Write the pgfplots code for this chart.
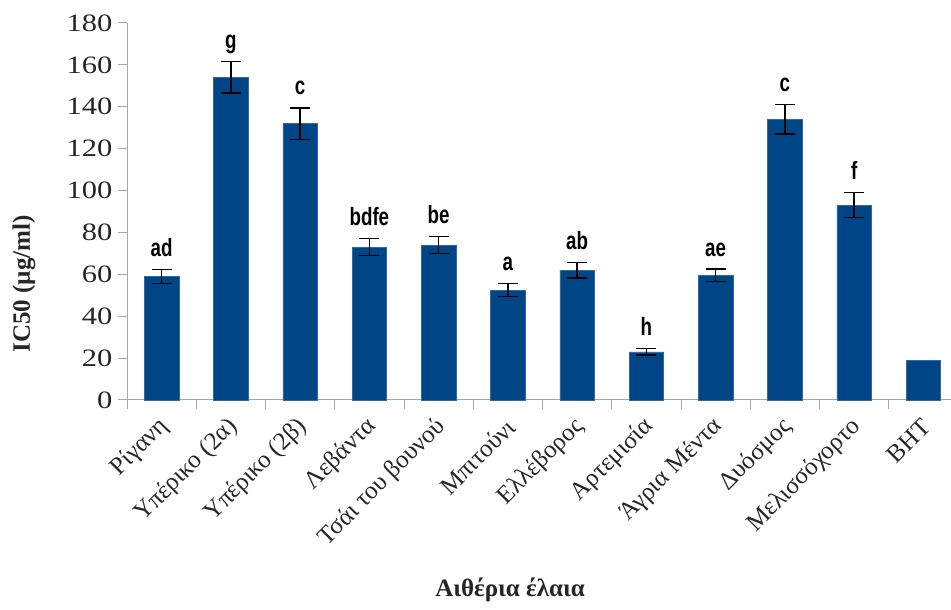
\documentclass[border=0pt]{standalone}
\usepackage{fontspec}
\setmainfont{Liberation Serif}
\newfontfamily\letterfont{Liberation Sans}[FakeStretch=0.75]
\newfontfamily\tickfont{Liberation Serif}[FakeStretch=1.22]
\usepackage{pgfplots}
\usepackage{pgfplotstable}
\pgfplotsset{compat=1.18}

\definecolor{barblue}{RGB}{0,69,134}
\definecolor{axisgray}{RGB}{165,165,165}

% IC50 of each oil (bars)
\pgfplotstableread{
x y
0 59
1 154
2 132
3 73
4 74
5 52.5
6 62
7 23
8 59.5
9 134
10 93
11 19
}\bars

% mean, standard deviation and significance group of each essential oil
\pgfplotstableread{
x y err lab
0 59 3.3 ad
1 154 7.5 g
2 132 7.5 c
3 73 4 bdfe
4 74 4 be
5 52.5 3 a
6 62 3.7 ab
7 23 1.5 h
8 59.5 3 ae
9 134 7 c
10 93 6 f
}\stats

\begin{document}
\begin{tikzpicture}[x=1pt,y=1pt]
\useasboundingbox (0,0) rectangle (951,610);
\clip (0,0) rectangle (951,610);
\begin{axis}[
  at={(127pt,210pt)}, anchor=south west,
  scale only axis, width=831pt, height=377pt,
  xmin=-0.5, xmax=11.5, ymin=0, ymax=180,
  axis lines=left,
  axis line style={-, draw=axisgray, line width=1pt},
  ytick={0,20,...,180},
  xtick={0,...,11},
  xticklabels={Ρίγανη, Υπέρικο (2α), Υπέρικο (2β), Λεβάντα, Τσάι του βουνού,
    Μπιτούνι, Ελλέβορος, Αρτεμισία, Άγρια Μέντα, Δυόσμος, Μελισσόχορτο, BHT},
  minor xtick={-0.5,0.5,...,11.5},
  tick align=outside,
  major tick length=9pt, minor tick length=9pt,
  tick style={draw=axisgray, line width=1pt},
  major x tick style={draw=none},
  /pgf/number format/assume math mode=true,
  yticklabel style={font=\tickfont\fontsize{25}{30}\selectfont, text=black!85, xshift=-2pt},
  xticklabel style={xshift=3pt, yshift=-14pt, rotate=45, anchor=east, inner sep=0pt,
    font=\fontsize{25}{30}\selectfont, text=black!85},
  clip=false,
]
\addplot[ybar, bar width=0.5, fill=barblue, draw=barblue!80!white, line width=0.6pt]
  table[x=x, y=y]{\bars};
\addplot[draw=none, mark=none,
  error bars/.cd, y dir=both, y explicit,
  error bar style={black, line width=1.4pt},
  error mark options={rotate=90, mark size=10pt, black, line width=1.4pt}]
  table[x=x, y=y, y error=err]{\stats};
\addplot[draw=none, mark=none,
  nodes near coords={\pgfplotspointmeta},
  point meta=explicit symbolic,
  every node near coord/.append style={anchor=base, yshift=13pt, inner sep=0pt,
    font=\letterfont\bfseries\fontsize{25}{28}\selectfont, text=black}]
  table[x=x, y expr=\thisrow{y}+\thisrow{err}, meta=lab]{\stats};
\end{axis}
\node[rotate=90, font=\bfseries\fontsize{25}{30}\selectfont, text=black!85]
  at (24,326) {IC50 (µg/ml)};
\node[font=\bfseries\fontsize{25}{30}\selectfont, text=black!85]
  at (510,20) {Αιθέρια έλαια};
\end{tikzpicture}
\end{document}
